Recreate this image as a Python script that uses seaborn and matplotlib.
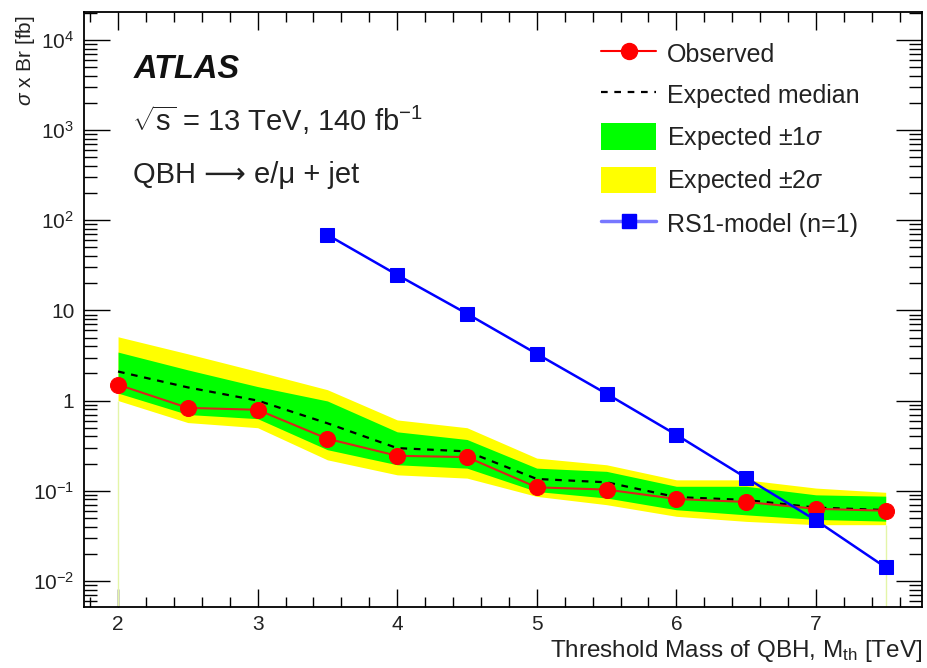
import numpy as np
import pandas as pd
import matplotlib
matplotlib.use("Agg")
import matplotlib.pyplot as plt
import matplotlib.ticker as mticker
from matplotlib.lines import Line2D
from matplotlib.patches import Patch
import seaborn as sns

# ---- data ----
mass = [2.0, 2.5, 3.0, 3.5, 4.0, 4.5, 5.0, 5.5, 6.0, 6.5, 7.0, 7.5]
observed = [1.50, 0.83, 0.79, 0.377, 0.244, 0.236, 0.109, 0.103, 0.081, 0.075, 0.063, 0.060]
expected = [2.1, 1.40, 1.00, 0.56, 0.297, 0.273, 0.135, 0.124, 0.085, 0.079, 0.065, 0.061]
exp_up1 = [3.45, 2.19, 1.43, 0.99, 0.45, 0.37, 0.178, 0.164, 0.112, 0.112, 0.090, 0.087]
exp_dn1 = [1.21, 0.70, 0.63, 0.285, 0.194, 0.178, 0.098, 0.083, 0.0615, 0.054, 0.048, 0.046]
exp_up2 = [5.1, 3.3, 2.1, 1.32, 0.61, 0.50, 0.23, 0.194, 0.132, 0.132, 0.107, 0.096]
exp_dn2 = [1.0, 0.57, 0.50, 0.22, 0.15, 0.138, 0.0865, 0.070, 0.052, 0.0457, 0.042, 0.042]
rs1_mass = [3.5, 4.0, 4.5, 5.0, 5.5, 6.0, 6.5, 7.0, 7.5]
rs1_xsec = [68.9, 24.8, 9.2, 3.3, 1.19, 0.417, 0.139, 0.047, 0.0141]

y_major_ticks = [1e-2, 1e-1, 1, 10, 1e2, 1e3, 1e4]
legend_labels = ["Observed", "Expected median", r"Expected $\pm$1$\sigma$",
                 r"Expected $\pm$2$\sigma$", "RS1-model (n=1)"]

sns.set_style("ticks")
FONT = ["Liberation Sans", "DejaVu Sans"]
plt.rcParams["font.family"] = FONT
plt.rcParams["mathtext.fontset"] = "custom"
plt.rcParams["mathtext.rm"] = "Liberation Sans"
plt.rcParams["mathtext.it"] = "Liberation Sans:italic"
plt.rcParams["mathtext.bf"] = "Liberation Sans:bold"
plt.rcParams["mathtext.sf"] = "Liberation Sans"

df = pd.DataFrame({"mass": mass, "observed": observed, "expected": expected})
df_rs = pd.DataFrame({"mass": rs1_mass, "xsec": rs1_xsec})

fig = plt.figure(figsize=(9.27, 6.68), dpi=100)
ax = fig.add_axes([0.0906, 0.0913, 0.904, 0.8907])

YMIN, YMAX = 10 ** -2.29, 10 ** 4.31

ax.fill_between(mass, exp_dn2, exp_up2, color="#ffff00", lw=0, zorder=1)
ax.fill_between(mass, exp_dn1, exp_up1, color="#00ff00", lw=0, zorder=2)
ax.vlines([mass[0], mass[-1]], YMIN, [exp_dn2[0], exp_dn2[-1]],
          color="#e4f5a8", lw=1.0, zorder=1)

sns.lineplot(data=df, x="mass", y="expected", ax=ax, color="black",
             lw=1.6, linestyle=(0, (3, 3)), zorder=3, legend=False)
sns.lineplot(data=df, x="mass", y="observed", ax=ax, color="#d8261a",
             lw=1.5, marker="o", markersize=11.5, markerfacecolor="#ff0000",
             markeredgecolor="#ff0000", zorder=4, legend=False)
sns.lineplot(data=df_rs, x="mass", y="xsec", ax=ax, color="#0000ff",
             lw=1.8, marker="s", markersize=10, markerfacecolor="#0000ff",
             markeredgecolor="#0000ff", zorder=5, legend=False)

ax.set_yscale("log")
ax.set_ylim(YMIN, YMAX)
ax.set_xlim(1.756, 7.76)

# ticks
ax.xaxis.set_major_locator(mticker.MultipleLocator(1))
ax.xaxis.set_minor_locator(mticker.MultipleLocator(0.2))
ax.yaxis.set_major_locator(mticker.FixedLocator(y_major_ticks))
ax.yaxis.set_minor_locator(mticker.LogLocator(base=10, subs=np.arange(2, 10), numticks=20))
ax.yaxis.set_minor_formatter(mticker.NullFormatter())

def yfmt(v, pos):
    e = int(round(np.log10(v)))
    if e == 0:
        return "1"
    if e == 1:
        return "10"
    return r"$10^{%d}$" % e

ax.yaxis.set_major_formatter(mticker.FuncFormatter(yfmt))
ax.tick_params(axis="both", which="both", direction="in", top=True, right=True,
               colors="black", width=1.0)
ax.tick_params(axis="x", which="major", length=13, labelsize=15, pad=6,
               labelcolor="#222222")
ax.tick_params(axis="x", which="minor", length=7)
ax.tick_params(axis="y", which="major", length=18.5, labelsize=15, pad=7,
               labelcolor="#222222")
ax.tick_params(axis="y", which="minor", length=9.5)
for s in ax.spines.values():
    s.set_linewidth(1.3)
    s.set_color("black")

ax.set_xlabel(r"Threshold Mass of QBH, M$_{\rm th}$ [TeV]", fontsize=17.5,
              color="#222222")
ax.xaxis.set_label_coords(1.0, -0.074)
ax.xaxis.label.set_horizontalalignment("right")
ax.xaxis.label.set_verticalalignment("center")
ax.set_ylabel(r"$\sigma$ x Br [fb]", fontsize=15, color="#222222")
ax.yaxis.set_label_coords(-0.070, 0.995)
ax.yaxis.label.set_verticalalignment("center")
ax.yaxis.label.set_horizontalalignment("right")

# annotations
ax.text(0.059, 0.903, "ATLAS", transform=ax.transAxes, fontsize=23.5,
        fontweight="bold", fontstyle="italic", va="center", ha="left",
        color="#111111")
ax.text(0.057, 0.818, r"$\sqrt{\rm s}$ = 13 TeV, 140 fb$^{-1}$",
        transform=ax.transAxes, fontsize=21, va="center", ha="left",
        color="#222222")
ax.text(0.058, 0.726, "QBH \u27f6 e/\u03bc + jet", transform=ax.transAxes,
        fontsize=21, va="center", ha="left", color="#222222", family=FONT)

handles = [
    Line2D([], [], color="#ff0000", lw=1.5, marker="o", markersize=11.5),
    Line2D([], [], color="black", lw=1.6, linestyle=(0, (3, 3))),
    Patch(facecolor="#00ff00", edgecolor="none"),
    Patch(facecolor="#ffff00", edgecolor="none"),
    Line2D([], [], color="#7777ff", lw=2.5, marker="s", markersize=10,
           markerfacecolor="#0000ff", markeredgecolor="#0000ff"),
]
leg = ax.legend(handles, legend_labels, loc="upper left",
                bbox_to_anchor=(0.617, 0.953), frameon=False, fontsize=18,
                handlelength=2.2, handleheight=1.25, handletextpad=0.42,
                labelspacing=0.6, borderpad=0, borderaxespad=0)
for t in leg.get_texts():
    t.set_color("#222222")

fig.savefig("out.png", dpi=100)
